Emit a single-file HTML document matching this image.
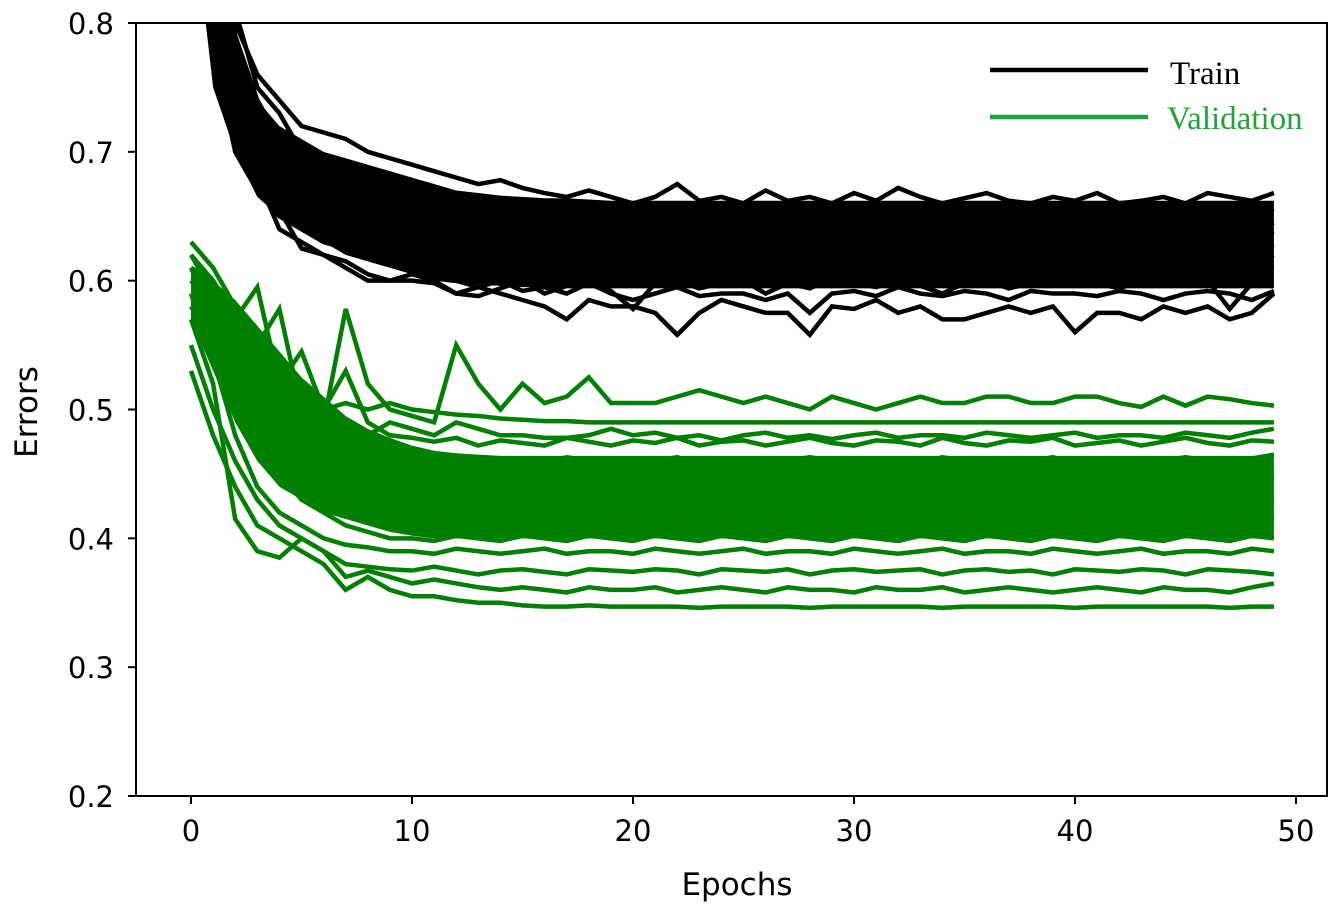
<!DOCTYPE html>
<html><head><meta charset="utf-8"><style>
html,body{margin:0;padding:0;background:#fff;}
svg{display:block;}
text{font-family:"DejaVu Sans","Liberation Sans",sans-serif;}
</style></head><body>
<svg id="chart" width="1341" height="914" viewBox="0 0 1341 914" xmlns="http://www.w3.org/2000/svg">
<defs><clipPath id="plotclip"><rect x="136" y="23" width="1191" height="773"/></clipPath></defs>
<g id="bands" clip-path="url(#plotclip)"></g>
<g id="lines" clip-path="url(#plotclip)"></g>
<rect x="136" y="23" width="1191" height="773" fill="none" stroke="#000" stroke-width="2"/>
<g id="axes"></g>
<text x="737" y="895" font-size="31" text-anchor="middle">Epochs</text>
<text transform="translate(37,412) rotate(-90)" font-size="31" text-anchor="middle">Errors</text>
<g>
<line x1="990" y1="70" x2="1148" y2="70" stroke="#000" stroke-width="4.5"/>
<text x="1170" y="84" font-size="33" style="font-family:'Liberation Serif',serif">Train</text>
<line x1="990" y1="117" x2="1148" y2="117" stroke="#22a33a" stroke-width="4.5"/>
<text x="1167" y="129" font-size="33" fill="#22a33a" style="font-family:'Liberation Serif',serif">Validation</text>
</g>
</svg>
<script>
const xTicks=[0,10,20,30,40,50];
const yTicks=[0.2,0.3,0.4,0.5,0.6,0.7,0.8];
const trainBandHigh=[1.0,0.83,0.77,0.74,0.72,0.71,0.70,0.695,0.69,0.685,0.68,0.675,0.67,0.668,0.666,0.665,0.664,0.664,0.663,0.662,0.662,0.662,0.662,0.662,0.662,0.662,0.662,0.662,0.662,0.662,0.662,0.662,0.662,0.662,0.662,0.662,0.662,0.662,0.662,0.662,0.662,0.662,0.662,0.662,0.662,0.662,0.662,0.662,0.662,0.662];
const trainBandLow=[0.9,0.75,0.70,0.665,0.65,0.64,0.63,0.62,0.615,0.61,0.605,0.60,0.598,0.597,0.596,0.595,0.595,0.594,0.594,0.594,0.594,0.594,0.594,0.594,0.594,0.594,0.594,0.594,0.594,0.594,0.594,0.594,0.594,0.594,0.594,0.594,0.594,0.594,0.594,0.594,0.594,0.594,0.594,0.594,0.594,0.594,0.594,0.594,0.594,0.594];
const valBandHigh=[0.61,0.60,0.585,0.565,0.545,0.525,0.51,0.495,0.485,0.478,0.472,0.468,0.466,0.465,0.464,0.464,0.464,0.464,0.464,0.464,0.464,0.464,0.464,0.464,0.464,0.464,0.464,0.464,0.464,0.464,0.464,0.464,0.464,0.464,0.464,0.464,0.464,0.464,0.464,0.464,0.464,0.464,0.464,0.464,0.464,0.464,0.464,0.464,0.464,0.464];
const valBandLow=[0.57,0.53,0.49,0.46,0.44,0.43,0.42,0.415,0.41,0.405,0.402,0.40,0.40,0.40,0.40,0.40,0.40,0.40,0.40,0.40,0.40,0.40,0.40,0.40,0.40,0.40,0.40,0.40,0.40,0.40,0.40,0.40,0.40,0.40,0.40,0.40,0.40,0.40,0.40,0.40,0.40,0.40,0.40,0.40,0.40,0.40,0.40,0.40,0.40,0.40];
const trainSeries=[
[1.05,0.88,0.80,0.76,0.74,0.72,0.715,0.71,0.70,0.695,0.69,0.685,0.68,0.675,0.678,0.672,0.668,0.665,0.67,0.665,0.66,0.665,0.675,0.662,0.665,0.66,0.67,0.662,0.665,0.66,0.668,0.662,0.672,0.665,0.66,0.664,0.668,0.662,0.66,0.665,0.662,0.668,0.66,0.662,0.665,0.66,0.668,0.665,0.662,0.668],
[0.98,0.80,0.72,0.68,0.64,0.63,0.62,0.61,0.60,0.60,0.605,0.60,0.59,0.595,0.59,0.585,0.58,0.57,0.585,0.58,0.58,0.575,0.558,0.575,0.585,0.58,0.575,0.575,0.558,0.58,0.578,0.585,0.575,0.58,0.57,0.57,0.575,0.58,0.575,0.58,0.56,0.575,0.575,0.57,0.58,0.575,0.58,0.57,0.575,0.59],
[0.95,0.78,0.70,0.67,0.65,0.64,0.63,0.625,0.62,0.615,0.61,0.605,0.60,0.595,0.60,0.592,0.595,0.59,0.598,0.59,0.585,0.59,0.595,0.588,0.59,0.59,0.585,0.59,0.575,0.59,0.592,0.588,0.595,0.59,0.588,0.592,0.59,0.585,0.592,0.59,0.59,0.588,0.592,0.59,0.585,0.59,0.592,0.59,0.585,0.592],
[1.0,0.82,0.74,0.70,0.67,0.655,0.645,0.64,0.63,0.625,0.62,0.615,0.612,0.61,0.615,0.608,0.612,0.605,0.61,0.615,0.61,0.605,0.612,0.61,0.606,0.612,0.61,0.605,0.612,0.61,0.608,0.614,0.61,0.606,0.612,0.61,0.605,0.61,0.612,0.608,0.61,0.612,0.606,0.61,0.612,0.608,0.61,0.605,0.612,0.61],
[1.02,0.85,0.77,0.72,0.69,0.67,0.66,0.65,0.645,0.64,0.638,0.632,0.63,0.628,0.632,0.625,0.628,0.622,0.63,0.625,0.62,0.628,0.625,0.63,0.622,0.626,0.63,0.624,0.628,0.622,0.626,0.63,0.624,0.628,0.625,0.62,0.628,0.625,0.63,0.622,0.626,0.628,0.624,0.63,0.625,0.622,0.628,0.626,0.624,0.628],
[1.04,0.87,0.79,0.74,0.71,0.69,0.675,0.665,0.66,0.655,0.65,0.648,0.645,0.642,0.648,0.64,0.644,0.638,0.645,0.64,0.636,0.644,0.64,0.645,0.638,0.642,0.646,0.64,0.644,0.638,0.642,0.646,0.64,0.644,0.64,0.636,0.644,0.64,0.645,0.638,0.642,0.644,0.64,0.645,0.64,0.638,0.644,0.642,0.64,0.645],
[1.06,0.89,0.81,0.75,0.73,0.70,0.69,0.68,0.675,0.67,0.665,0.66,0.658,0.655,0.66,0.652,0.656,0.65,0.658,0.652,0.648,0.656,0.652,0.658,0.65,0.654,0.658,0.652,0.656,0.65,0.654,0.658,0.652,0.656,0.652,0.648,0.656,0.652,0.658,0.65,0.654,0.656,0.652,0.658,0.652,0.65,0.656,0.654,0.652,0.656],
[0.97,0.79,0.71,0.675,0.655,0.625,0.62,0.615,0.605,0.60,0.60,0.598,0.59,0.588,0.594,0.6,0.59,0.596,0.6,0.592,0.578,0.598,0.6,0.594,0.598,0.6,0.59,0.598,0.594,0.602,0.598,0.595,0.6,0.596,0.59,0.598,0.6,0.594,0.598,0.602,0.596,0.598,0.594,0.6,0.596,0.598,0.6,0.578,0.598,0.6],
[1.01,0.84,0.76,0.71,0.68,0.665,0.655,0.645,0.64,0.635,0.63,0.625,0.622,0.62,0.625,0.618,0.622,0.616,0.622,0.618,0.615,0.62,0.618,0.622,0.614,0.618,0.622,0.616,0.62,0.615,0.618,0.622,0.616,0.62,0.618,0.614,0.62,0.618,0.622,0.615,0.618,0.62,0.616,0.622,0.618,0.615,0.62,0.618,0.616,0.62],
[1.03,0.86,0.78,0.73,0.70,0.68,0.67,0.66,0.655,0.65,0.645,0.642,0.64,0.636,0.642,0.634,0.638,0.632,0.64,0.634,0.63,0.638,0.634,0.64,0.632,0.636,0.64,0.634,0.638,0.632,0.636,0.64,0.634,0.638,0.634,0.63,0.638,0.634,0.64,0.632,0.636,0.638,0.634,0.64,0.634,0.632,0.638,0.636,0.634,0.638]
];
const valSeries=[
[0.60,0.58,0.56,0.52,0.50,0.52,0.49,0.578,0.52,0.50,0.495,0.49,0.55,0.52,0.50,0.52,0.505,0.51,0.525,0.505,0.505,0.505,0.51,0.515,0.51,0.505,0.51,0.505,0.50,0.51,0.505,0.50,0.505,0.51,0.505,0.505,0.51,0.51,0.505,0.505,0.51,0.51,0.505,0.502,0.51,0.503,0.51,0.508,0.505,0.503],
[0.62,0.60,0.57,0.595,0.52,0.51,0.50,0.505,0.50,0.505,0.50,0.498,0.496,0.495,0.493,0.492,0.491,0.491,0.49,0.49,0.49,0.49,0.49,0.49,0.49,0.49,0.49,0.49,0.49,0.49,0.49,0.49,0.49,0.49,0.49,0.49,0.49,0.49,0.49,0.49,0.49,0.49,0.49,0.49,0.49,0.49,0.49,0.49,0.49,0.49],
[0.58,0.55,0.53,0.51,0.50,0.49,0.50,0.49,0.48,0.49,0.485,0.48,0.49,0.485,0.48,0.48,0.478,0.478,0.48,0.485,0.48,0.482,0.478,0.48,0.476,0.48,0.482,0.478,0.48,0.477,0.48,0.482,0.478,0.48,0.48,0.478,0.482,0.48,0.478,0.48,0.482,0.478,0.48,0.48,0.478,0.482,0.48,0.478,0.482,0.485],
[0.53,0.48,0.44,0.41,0.40,0.39,0.38,0.36,0.37,0.36,0.355,0.355,0.352,0.35,0.35,0.348,0.347,0.347,0.348,0.347,0.347,0.347,0.347,0.346,0.347,0.347,0.347,0.347,0.346,0.347,0.347,0.347,0.347,0.347,0.346,0.347,0.347,0.347,0.347,0.347,0.346,0.347,0.347,0.347,0.347,0.347,0.347,0.346,0.347,0.347],
[0.55,0.50,0.46,0.43,0.41,0.40,0.39,0.37,0.375,0.37,0.365,0.368,0.365,0.362,0.36,0.362,0.36,0.358,0.362,0.36,0.36,0.362,0.358,0.36,0.362,0.36,0.358,0.362,0.36,0.36,0.358,0.362,0.36,0.36,0.362,0.358,0.36,0.362,0.36,0.358,0.36,0.362,0.36,0.358,0.362,0.36,0.36,0.358,0.362,0.365],
[0.57,0.52,0.415,0.39,0.385,0.40,0.39,0.38,0.378,0.376,0.375,0.378,0.375,0.372,0.375,0.376,0.374,0.372,0.376,0.375,0.374,0.376,0.375,0.372,0.376,0.375,0.374,0.376,0.372,0.375,0.376,0.374,0.375,0.376,0.372,0.375,0.376,0.374,0.375,0.372,0.376,0.375,0.374,0.376,0.375,0.372,0.376,0.375,0.374,0.372],
[0.59,0.54,0.48,0.44,0.42,0.41,0.40,0.395,0.393,0.39,0.39,0.388,0.392,0.39,0.388,0.39,0.392,0.388,0.39,0.39,0.388,0.392,0.39,0.388,0.39,0.392,0.388,0.39,0.39,0.388,0.392,0.39,0.388,0.39,0.392,0.388,0.39,0.39,0.388,0.392,0.39,0.388,0.39,0.392,0.388,0.39,0.39,0.388,0.392,0.39],
[0.61,0.57,0.52,0.47,0.45,0.43,0.42,0.41,0.405,0.40,0.40,0.398,0.402,0.40,0.398,0.402,0.40,0.398,0.402,0.40,0.398,0.402,0.40,0.398,0.402,0.40,0.398,0.402,0.40,0.398,0.402,0.40,0.398,0.402,0.40,0.398,0.402,0.40,0.398,0.402,0.40,0.398,0.402,0.40,0.398,0.402,0.40,0.398,0.402,0.40],
[0.60,0.58,0.54,0.50,0.47,0.45,0.44,0.43,0.425,0.42,0.418,0.415,0.418,0.414,0.416,0.418,0.414,0.416,0.418,0.415,0.414,0.418,0.416,0.414,0.418,0.415,0.416,0.418,0.414,0.416,0.418,0.415,0.414,0.418,0.416,0.414,0.418,0.415,0.416,0.418,0.414,0.416,0.418,0.415,0.414,0.418,0.416,0.414,0.418,0.415],
[0.62,0.59,0.56,0.52,0.50,0.48,0.46,0.45,0.44,0.435,0.432,0.43,0.433,0.428,0.432,0.43,0.428,0.433,0.43,0.428,0.432,0.43,0.433,0.428,0.43,0.432,0.428,0.43,0.433,0.43,0.428,0.432,0.43,0.428,0.433,0.43,0.428,0.432,0.43,0.433,0.428,0.43,0.432,0.428,0.43,0.433,0.43,0.428,0.432,0.43],
[0.61,0.60,0.57,0.53,0.51,0.49,0.47,0.46,0.455,0.45,0.448,0.445,0.448,0.443,0.447,0.445,0.443,0.448,0.445,0.443,0.447,0.445,0.448,0.443,0.445,0.447,0.443,0.445,0.448,0.445,0.443,0.447,0.445,0.443,0.448,0.445,0.443,0.447,0.445,0.448,0.443,0.445,0.447,0.443,0.445,0.448,0.445,0.443,0.447,0.445],
[0.63,0.61,0.58,0.55,0.578,0.50,0.49,0.48,0.47,0.465,0.462,0.46,0.463,0.458,0.462,0.46,0.458,0.463,0.46,0.458,0.462,0.46,0.463,0.458,0.46,0.462,0.458,0.46,0.463,0.46,0.458,0.462,0.46,0.458,0.463,0.46,0.458,0.462,0.46,0.463,0.458,0.46,0.462,0.458,0.46,0.463,0.46,0.458,0.462,0.465],
[0.60,0.59,0.57,0.54,0.52,0.545,0.50,0.53,0.49,0.48,0.478,0.475,0.478,0.472,0.476,0.474,0.472,0.478,0.475,0.472,0.476,0.474,0.478,0.472,0.475,0.476,0.472,0.475,0.478,0.474,0.472,0.476,0.475,0.472,0.478,0.474,0.472,0.476,0.475,0.478,0.472,0.474,0.476,0.472,0.475,0.478,0.474,0.472,0.476,0.475]
];
const X0=136,X1=1327,Y0=23,Y1=796;
function xs(e){return 191+(e/50)*(1296-191);}
function ys(v){return Y1-(v-0.2)/(0.8-0.2)*(Y1-Y0);}
const NS="http://www.w3.org/2000/svg";
function el(tag,attrs,parent){const e=document.createElementNS(NS,tag);for(const k in attrs)e.setAttribute(k,attrs[k]);parent.appendChild(e);return e;}
const bands=document.getElementById('bands'),lines=document.getElementById('lines'),axes=document.getElementById('axes');
function band(hi,lo,color,name){
  let p=hi.map((v,i)=>xs(i)+','+ys(v));
  for(let i=lo.length-1;i>=0;i--)p.push(xs(i)+','+ys(lo[i]));
  const poly=el('polygon',{points:p.join(' '),fill:color},bands);
  
  
}
band(trainBandHigh,trainBandLow,'#000','train-band');
band(valBandHigh,valBandLow,'#008000','validation-band');
trainSeries.forEach((s,k)=>{
  const pl=el('polyline',{points:s.map((v,i)=>xs(i)+','+ys(v)).join(' '),fill:'none',stroke:'#000','stroke-width':4.5,'stroke-linejoin':'miter'},lines);
  
  
});
valSeries.forEach((s,k)=>{
  const pl=el('polyline',{points:s.map((v,i)=>xs(i)+','+ys(v)).join(' '),fill:'none',stroke:'#008000','stroke-width':4.5,'stroke-linejoin':'miter'},lines);
  
  
});
xTicks.forEach(t=>{
  const x=xs(t);
  const tk=el('line',{x1:x,y1:Y1,x2:x,y2:Y1+8,stroke:'#000','stroke-width':2},axes);
  
  
  const tx=el('text',{x:x,y:Y1+45,'font-size':29,'text-anchor':'middle'},axes);
  tx.textContent=t;
  
  
});
yTicks.forEach(t=>{
  const y=ys(t);
  const tk=el('line',{x1:X0-8,y1:y,x2:X0,y2:y,stroke:'#000','stroke-width':2},axes);
  
  
  const tx=el('text',{x:X0-22,y:y+11,'font-size':29,'text-anchor':'end'},axes);
  tx.textContent=t.toFixed(1);
  
  
});
</script>
</body></html>
